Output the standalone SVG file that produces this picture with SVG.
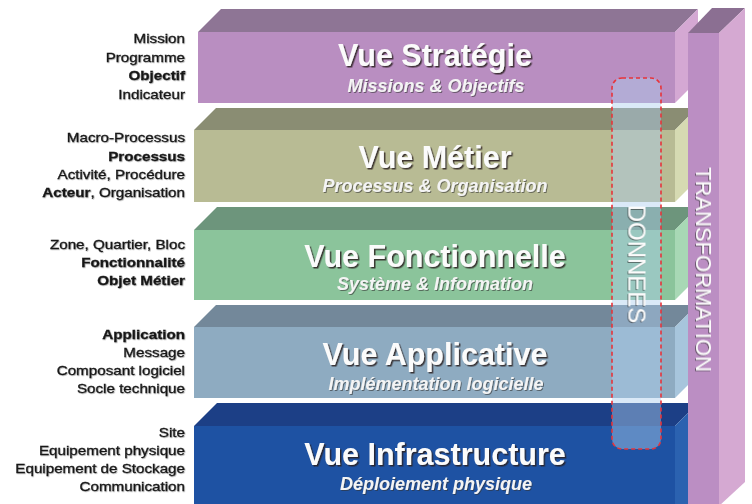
<svg xmlns="http://www.w3.org/2000/svg" width="752" height="504" viewBox="0 0 752 504">
<defs>
<filter id="sh" x="-10%" y="-30%" width="120%" height="160%">
<feDropShadow dx="1.5" dy="1.5" stdDeviation="0.5" flood-color="#2a1e1e" flood-opacity="0.85"/>
</filter>
<filter id="sh2" x="-10%" y="-30%" width="120%" height="160%">
<feDropShadow dx="1" dy="1" stdDeviation="0.5" flood-color="#333" flood-opacity="0.6"/>
</filter>
<filter id="sh3" x="-10%" y="-30%" width="120%" height="160%">
<feDropShadow dx="0.6" dy="0.6" stdDeviation="0.6" flood-color="#555" flood-opacity="0.6"/>
</filter>
</defs>
<style>
.title{font-family:"Liberation Sans",Arial,sans-serif;font-weight:bold;font-size:30.5px;fill:#fbfbfb;text-anchor:middle;filter:url(#sh)}
.sub{font-family:"Liberation Sans",Arial,sans-serif;font-weight:bold;font-style:italic;font-size:18px;fill:#f4f4f4;text-anchor:middle;filter:url(#sh2)}
.lbl{font-family:"Liberation Sans",Arial,sans-serif;font-size:13px;fill:#151515;stroke:#151515;stroke-width:0.3;text-anchor:end;filter:url(#sh3)}
.b{font-weight:bold}
.vert{font-family:"Liberation Sans",Arial,sans-serif;fill:#fbfbfb;text-anchor:middle;filter:url(#sh2)}
</style>
<rect width="752" height="504" fill="#ffffff"/>

<g id="vue-strategie">
<polygon points="198,32 221,9 698,9 675,32" fill="#8e7595"/>
<polygon points="675,32 698,9 698,80 675,103" fill="#d4a8d3"/>
<rect x="198" y="32" width="477" height="71" fill="#b98ec1"/>
<text class="title" x="435" y="66">Vue Stratégie</text>
<text class="sub" x="436" y="92">Missions &amp; Objectifs</text>
</g>

<g id="vue-metier">
<polygon points="194,130 216,108 697,108 675,130" fill="#8a8d73"/>
<polygon points="675,130 697,108 697,180 675,202" fill="#d6dab2"/>
<rect x="194" y="130" width="481" height="72" fill="#b8bb94"/>
<text class="title" x="435" y="168">Vue Métier</text>
<text class="sub" x="435" y="192">Processus &amp; Organisation</text>
</g>

<g id="vue-fonctionnelle">
<polygon points="194,230 217,207 698,207 675,230" fill="#6d957c"/>
<polygon points="675,230 698,207 698,277 675,300" fill="#a8d8b5"/>
<rect x="194" y="230" width="481" height="70" fill="#8bc49b"/>
<text class="title" x="435" y="267">Vue Fonctionnelle</text>
<text class="sub" x="435" y="290">Système &amp; Information</text>
</g>

<g id="vue-applicative">
<polygon points="194,327 216,305 697,305 675,327" fill="#73889a"/>
<polygon points="675,327 697,305 697,376 675,398" fill="#a7c5dc"/>
<rect x="194" y="327" width="481" height="71" fill="#8eabc1"/>
<text class="title" x="435" y="365">Vue Applicative</text>
<text class="sub" x="436" y="390">Implémentation logicielle</text>
</g>

<g id="vue-infrastructure">
<polygon points="194,426 217,403 698,403 675,426" fill="#1c3f86"/>
<polygon points="675,426 698,403 698,504 675,504" fill="#2b62b0"/>
<rect x="194" y="426" width="481" height="78" fill="#1e52a3"/>
<text class="title" x="435" y="465">Vue Infrastructure</text>
<text class="sub" x="436" y="490">Déploiement physique</text>
</g>

<g id="donnees">
<rect x="612" y="78" width="49" height="371" rx="10" ry="10" fill="#aecfee" fill-opacity="0.45" stroke="#e8343a" stroke-width="1.6" stroke-dasharray="4 3"/>
<text class="vert" font-size="24" transform="translate(628.5,264) rotate(90)">DONNEES</text>
</g>

<g id="transformation">
<polygon points="688,33 712,8 745,8 719,33" fill="#8b6f92"/>
<polygon points="719,33 745,8 745,482 719,506" fill="#d5a9d2"/>
<rect x="688" y="33" width="31" height="471" fill="#bb8ec3"/>
<text class="vert" font-size="22" transform="translate(696,269.5) rotate(90)">TRANSFORMATION</text>
</g>

<g id="labels-strategie" transform="translate(185,0) scale(1.17,1)">
<text class="lbl" x="0" y="43.5">Mission</text>
<text class="lbl" x="0" y="62">Programme</text>
<text class="lbl b" x="0" y="80.5">Objectif</text>
<text class="lbl" x="0" y="99">Indicateur</text>
</g>
<g id="labels-metier" transform="translate(185,0) scale(1.17,1)">
<text class="lbl" x="0" y="142.5">Macro-Processus</text>
<text class="lbl b" x="0" y="161">Processus</text>
<text class="lbl" x="0" y="179">Activité, Procédure</text>
<text class="lbl" x="0" y="197.5"><tspan class="b">Acteur</tspan>, Organisation</text>
</g>
<g id="labels-fonctionnelle" transform="translate(185,0) scale(1.17,1)">
<text class="lbl" x="0" y="249">Zone, Quartier, Bloc</text>
<text class="lbl b" x="0" y="267">Fonctionnalité</text>
<text class="lbl b" x="0" y="285">Objet Métier</text>
</g>
<g id="labels-applicative" transform="translate(185,0) scale(1.17,1)">
<text class="lbl b" x="0" y="339.5">Application</text>
<text class="lbl" x="0" y="357.5">Message</text>
<text class="lbl" x="0" y="375.5">Composant logiciel</text>
<text class="lbl" x="0" y="393.5">Socle technique</text>
</g>
<g id="labels-infrastructure" transform="translate(185,0) scale(1.17,1)">
<text class="lbl" x="0" y="437.5">Site</text>
<text class="lbl" x="0" y="455.5">Equipement physique</text>
<text class="lbl" x="0" y="473.5">Equipement de Stockage</text>
<text class="lbl" x="0" y="491.5">Communication</text>
</g>
</svg>
